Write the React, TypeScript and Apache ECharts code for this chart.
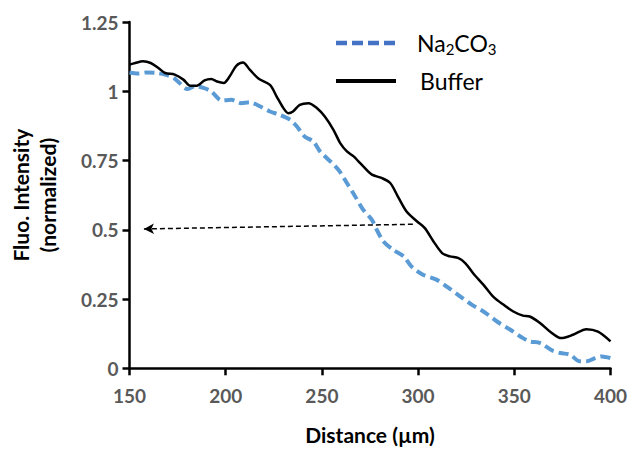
import React, { useEffect, useRef } from "react";
import * as echarts from "echarts";

const xTicks = { min: 150, max: 400, interval: 50 };
const yTicks = { min: 0, max: 1.25, interval: 0.25 };

const bufferX = [150, 153, 157, 161, 165, 168.5, 173.5, 178, 181.5, 185, 189, 192.5, 195.5, 199, 202, 205.5, 209, 212.5, 217, 223, 226.5, 230, 232.5, 235, 238.5, 243, 247.5, 251.5, 256, 259.5, 263, 266.5, 269, 271.5, 276, 281, 285.5, 289.5, 294, 299.5, 303.5, 308, 312.5, 316.5, 321, 324.5, 328.5, 334, 339, 344.5, 349.5, 354.5, 358, 363.5, 368.5, 374.5, 380.5, 387.5, 393.5, 400];
const bufferY = [1.096, 1.102, 1.108, 1.102, 1.084, 1.066, 1.06, 1.042, 1.02, 1.02, 1.039, 1.044, 1.035, 1.03, 1.053, 1.092, 1.104, 1.078, 1.046, 1.023, 0.981, 0.939, 0.921, 0.927, 0.951, 0.957, 0.939, 0.909, 0.861, 0.813, 0.783, 0.765, 0.747, 0.729, 0.699, 0.687, 0.669, 0.62, 0.566, 0.53, 0.506, 0.458, 0.416, 0.404, 0.398, 0.38, 0.344, 0.301, 0.259, 0.229, 0.205, 0.19, 0.187, 0.163, 0.133, 0.109, 0.121, 0.141, 0.132, 0.097];

const naX = [150, 154.5, 159, 164, 168.5, 173, 176, 180, 184, 188.5, 192.5, 198, 203, 208, 212.5, 218, 223, 228, 233.5, 237, 241, 245.5, 249, 252.5, 257, 259.5, 263, 267, 271.5, 276, 278.5, 282, 287, 292.5, 296.5, 302.5, 309.5, 315.5, 322, 328, 334, 341, 348, 354.5, 358, 363.5, 369.5, 374, 379, 384, 387.5, 392, 395.5, 400];
const naY = [1.068, 1.064, 1.068, 1.066, 1.06, 1.048, 1.03, 1.008, 1.018, 1.012, 0.999, 0.967, 0.969, 0.957, 0.96, 0.945, 0.927, 0.915, 0.897, 0.873, 0.837, 0.819, 0.783, 0.759, 0.729, 0.708, 0.669, 0.624, 0.572, 0.536, 0.5, 0.458, 0.428, 0.404, 0.368, 0.338, 0.32, 0.292, 0.259, 0.229, 0.205, 0.169, 0.139, 0.109, 0.097, 0.091, 0.065, 0.055, 0.049, 0.025, 0.025, 0.037, 0.043, 0.037];

const arrowStart = [157.5, 0.503];
const arrowEnd = [298, 0.52];

const FONT = "Lato, 'Open Sans', sans-serif";

export default function App() {
  const ref = useRef<HTMLDivElement>(null);
  useEffect(() => {
    if (!ref.current) return;
    const chart = echarts.init(ref.current, null, { renderer: "svg" });
    chart.setOption({
      animation: false,
      backgroundColor: "#ffffff",
      grid: { left: 129.5, right: 20.5, top: 22, bottom: 80.7, outerBoundsMode: "none" },
      xAxis: {
        type: "value",
        min: xTicks.min,
        max: xTicks.max,
        interval: xTicks.interval,
        name: "Distance (µm)",
        nameLocation: "middle",
        nameGap: 56,
        nameTextStyle: { fontFamily: FONT, fontSize: 21, fontWeight: "bold", color: "#000" },
        axisLine: { lineStyle: { color: "#000", width: 2.5 } },
        axisTick: { length: 7, lineStyle: { color: "#000", width: 2.5 } },
        axisLabel: { margin: 18, fontFamily: FONT, fontSize: 19, fontWeight: "bold", color: "#595959" },
        splitLine: { show: false },
      },
      yAxis: {
        type: "value",
        min: yTicks.min,
        max: yTicks.max,
        interval: yTicks.interval,
        name: "Fluo. Intensity\n(normalized)",
        nameLocation: "middle",
        nameRotate: 90,
        nameGap: 69,
        nameTextStyle: { fontFamily: FONT, fontSize: 21, fontWeight: "bold", color: "#000", lineHeight: 27 },
        axisLine: { show: true, lineStyle: { color: "#000", width: 2.5 } },
        axisTick: { show: true, length: 7, lineStyle: { color: "#000", width: 2.5 } },
        axisLabel: { margin: 11, fontFamily: FONT, fontSize: 19, fontWeight: "bold", color: "#595959" },
        splitLine: { show: false },
      },
      graphic: [
        { type: "line", shape: { x1: 336, y1: 43, x2: 396, y2: 43 }, style: { stroke: "#4472C4", lineWidth: 4.5, lineDash: [11, 5] } },
        {
          type: "text",
          x: 417,
          y: 43,
          style: {
            text: "{n|Na}{s|2}{n|CO}{s|3}",
            verticalAlign: "middle",
            rich: {
              n: { fontFamily: FONT, fontSize: 23, color: "#000", lineHeight: 27, verticalAlign: "middle" },
              s: { fontFamily: FONT, fontSize: 15, color: "#000", lineHeight: 15, verticalAlign: "bottom" },
            },
          },
        },
        { type: "line", shape: { x1: 336, y1: 81, x2: 396, y2: 81 }, style: { stroke: "#000", lineWidth: 4 } },
        { type: "text", x: 420, y: 81, style: { text: "Buffer", fontFamily: FONT, fontSize: 23, fill: "#000", verticalAlign: "middle" } },
      ],
      series: [
        {
          name: "Na2CO3",
          type: "line",
          data: naX.map((x, i) => [x, naY[i]]),
          symbol: "none",
          smooth: 0.3,
          lineStyle: { color: "#5B9BD5", width: 4, type: [10, 5] },
          z: 2,
        },
        {
          name: "Buffer",
          type: "line",
          data: bufferX.map((x, i) => [x, bufferY[i]]),
          symbol: "none",
          smooth: 0.3,
          lineStyle: { color: "#000", width: 2.5 },
          z: 3,
          markLine: {
            silent: true,
            symbol: ["arrow", "none"],
            symbolSize: [8, 10],
            label: { show: false },
            lineStyle: { color: "#000", type: [5, 3], width: 1.5 },
            data: [[{ coord: arrowStart }, { coord: arrowEnd }]],
          },
        },
      ],
    });
    return () => chart.dispose();
  }, []);
  return <div ref={ref} style={{ position: "fixed", left: 0, top: 0, width: 631, height: 449 }} />;
}
